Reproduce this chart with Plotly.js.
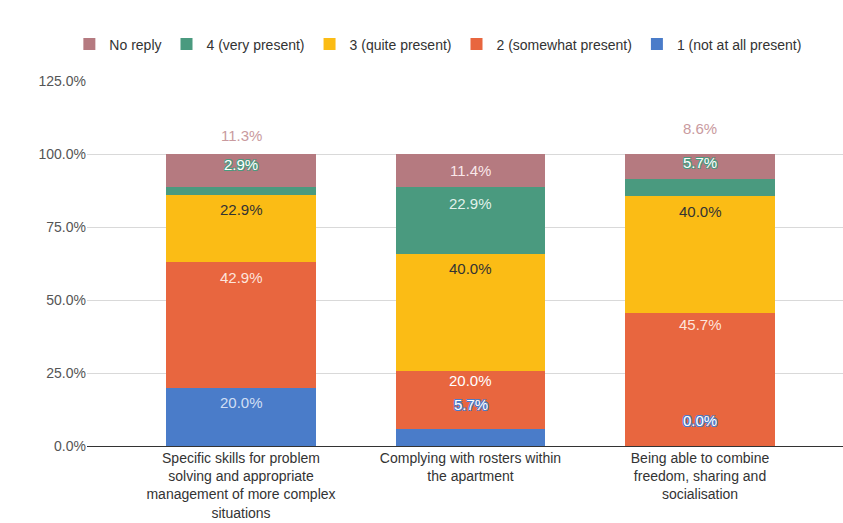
<!DOCTYPE html>
<html>
<head>
<meta charset="utf-8">
<script src="https://cdn.plot.ly/plotly-3.0.1.min.js"></script>
<style>html,body{margin:0;padding:0;background:#fff;}#chart{width:843px;height:523px;}</style>
</head>
<body>
<div id="chart"></div>
<script>
// ---- data ----
const categories = [
  "Specific skills for problem solving and appropriate management of more complex situations",
  "Complying with rosters within the apartment",
  "Being able to combine freedom, sharing and socialisation"
];
const tickLabels = [
  "Specific skills for problem<br>solving and appropriate<br>management of more complex<br>situations",
  "Complying with rosters within<br>the apartment",
  "Being able to combine<br>freedom, sharing and<br>socialisation"
];
const yTickValues = [0, 25, 50, 75, 100, 125];
const yTickLabels = ["0.0%", "25.0%", "50.0%", "75.0%", "100.0%", "125.0%"];
const seriesNames = ["1 (not at all present)", "2 (somewhat present)", "3 (quite present)", "4 (very present)", "No reply"];
const notAtAllPresent = [20.0, 5.7, 0.0];
const somewhatPresent = [42.9, 20.0, 45.7];
const quitePresent = [22.9, 40.0, 40.0];
const veryPresent = [2.9, 22.9, 5.7];
const noReply = [11.3, 11.4, 8.6];
const seriesValues = [notAtAllPresent, somewhatPresent, quitePresent, veryPresent, noReply];

// ---- styles ----
const FONT = 'Liberation Sans, Arial, sans-serif';
const colors = ["#4a7cc9", "#e8663f", "#fbbc15", "#4a9a7f", "#b57a80"];
const labelColors = ["rgba(225,235,250,0.9)", "rgba(255,238,230,0.95)", "#333333", "rgba(236,248,243,0.95)", "rgba(255,240,242,0.95)"];
// pixel offset of each label from the top of its segment (negative = inside, below top)
const labelShift = [
  [-15, 25, 26],
  [-15, -10, -12],
  [-14, -14, -16],
  [23, -16, 17],
  [19, -16, 26]
];
// label kind: 0 normal, 1 halo, 2 outside
const labelKind = [
  [0, 1, 1],
  [0, 1, 0],
  [0, 0, 0],
  [1, 0, 1],
  [2, 0, 2]
];

const traces = seriesValues.map((vals, i) => ({
  type: 'bar',
  name: seriesNames[i],
  x: categories,
  y: vals,
  marker: {color: colors[i], line: {width: 0}},
  hoverinfo: 'skip'
}));

const annotations = [];
const cum = [0, 0, 0];
seriesValues.forEach((vals, i) => {
  vals.forEach((v, j) => {
    cum[j] += v;
    const kind = labelKind[i][j];
    let font = {family: FONT, size: 15, color: labelColors[i]};
    if (kind === 1) {
      const c = colors[i];
      font.color = '#ffffff';
      font.shadow = `1px 1px 0 ${c}, -1px -1px 0 ${c}, 1px -1px 0 ${c}, -1px 1px 0 ${c}`;
    } else if (kind === 2) {
      font.color = '#c99a9e';
    }
    annotations.push({
      x: categories[j], y: cum[j], xref: 'x', yref: 'y',
      text: v.toFixed(1) + '%', showarrow: false,
      yshift: labelShift[i][j], yanchor: 'middle', xanchor: 'center',
      font: font
    });
  });
});

const layout = {
  width: 843, height: 523,
  margin: {l: 87, r: 0, t: 81, b: 77},
  paper_bgcolor: '#ffffff', plot_bgcolor: '#ffffff',
  barmode: 'stack', bargap: 0.35,
  font: {family: FONT, size: 15, color: '#333'},
  showlegend: true,
  legend: {
    orientation: 'h', traceorder: 'reversed',
    x: 0.52, xref: 'container', xanchor: 'center',
    y: 0.915, yref: 'container', yanchor: 'middle',
    font: {family: FONT, size: 14, color: '#333'}, itemwidth: 30
  },
  xaxis: {
    range: [-0.671, 2.623], tickmode: 'array', tickvals: categories, ticktext: tickLabels,
    showgrid: false, zeroline: false, showline: false, ticks: '',
    ticklabelstandoff: 2,
    tickfont: {family: FONT, size: 14, color: '#333'}, fixedrange: true
  },
  yaxis: {
    range: [0, 125], tickmode: 'array', tickvals: yTickValues, ticktext: yTickLabels,
    showgrid: true, gridcolor: '#d9d9d9', gridwidth: 1,
    zeroline: true, zerolinecolor: '#333', zerolinewidth: 1,
    tickfont: {family: FONT, size: 14, color: '#555'}, ticks: '', fixedrange: true
  },
  annotations: annotations
};

Plotly.newPlot('chart', traces, layout, {displayModeBar: false, staticPlot: true});
</script>
</body>
</html>
